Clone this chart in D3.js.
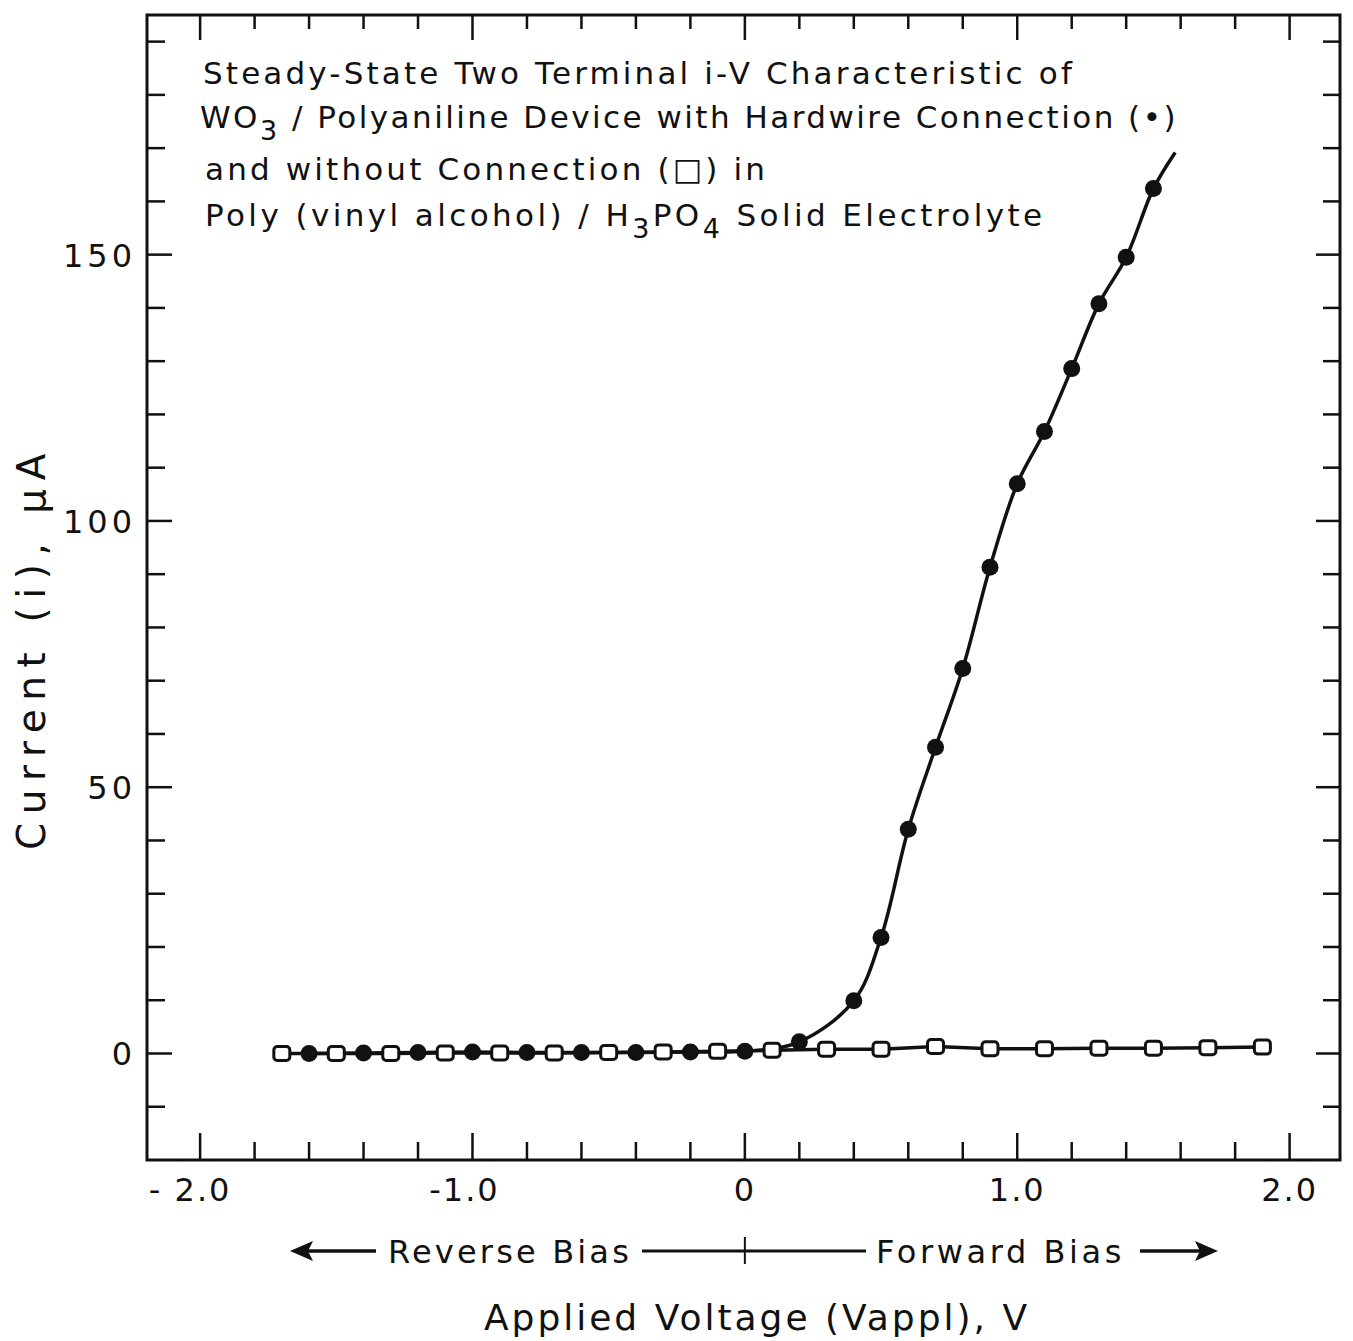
<!DOCTYPE html>
<html><head><meta charset="utf-8">
<script src="https://cdn.jsdelivr.net/npm/d3@7"></script>
<style>
html,body{margin:0;padding:0;background:#fff;}
text{font-family:"DejaVu Sans","Open Sans",sans-serif;fill:#111;}
</style></head>
<body>
<svg id="c" width="1353" height="1341"></svg>
<script>
// ---- data ----
const hardwireV = [-1.6,-1.4,-1.2,-1.0,-0.8,-0.6,-0.4,-0.2,0.0,0.2,0.4,0.5,0.6,0.7,0.8,0.9,1.0,1.1,1.2,1.3,1.4,1.5];
const hardwireI = [0.0,0.1,0.2,0.3,0.2,0.2,0.2,0.3,0.4,2.2,9.9,21.8,42.1,57.5,72.3,91.3,107.0,116.8,128.6,140.8,149.5,162.4];
const fitEndV = [1.58];            // solid fit line continues past last point
const fitEndI = [169.2];
const openV = [-1.7,-1.5,-1.3,-1.1,-0.9,-0.7,-0.5,-0.3,-0.1,0.1,0.3,0.5,0.7,0.9,1.1,1.3,1.5,1.7,1.9];
const openI = [0.0,0.0,0.0,0.1,0.1,0.1,0.2,0.3,0.4,0.6,0.8,0.8,1.3,0.9,0.9,1.0,1.0,1.1,1.2];
const xTickLabels = ["- 2.0","-1.0","0","1.0","2.0"];
const xTickLabelValues = [-2,-1,0,1,2];
const yTickLabels = ["0","50","100","150"];
const yTickLabelValues = [0,50,100,150];
const titleLines = [
  ["Steady-State Two Terminal i-V Characteristic of"],
  ["WO","3"," / Polyaniline Device with Hardwire Connection (\u2022)"],
  ["and without Connection (\u25A1) in"],
  ["Poly (vinyl alcohol) / H","3","PO","4","  Solid Electrolyte"]
];

// ---- layout ----
const L=147, R=1340, T=15, B=1160;
const svg=d3.select("#c");
const x=d3.scaleLinear().domain([-2.195,2.185]).range([L,R]);
const y=d3.scaleLinear().domain([-20,195]).range([B,T]);
const ink="#111";

function fitWidth(sel, target){
  const node=sel.node();
  const n=node.textContent.length;
  const ls=parseFloat(sel.attr("letter-spacing")||0);
  const len=node.getComputedTextLength();
  sel.attr("letter-spacing", ls+(target-len)/n);
}

// frame
svg.append("rect").attr("x",L).attr("y",T).attr("width",R-L).attr("height",B-T)
  .attr("fill","none").attr("stroke",ink).attr("stroke-width",3);

// x ticks (bottom inward, top inward)
const xt=d3.range(-20,21,2).map(d=>d/10);
const isMajX=d=>Math.abs(d-Math.round(d))<1e-6;
svg.append("g").selectAll("line").data(xt).join("line")
  .attr("x1",d=>x(d)).attr("x2",d=>x(d)).attr("y1",B).attr("y2",d=>B-(isMajX(d)?27:18))
  .attr("stroke",ink).attr("stroke-width",2.5);
svg.append("g").selectAll("line").data(xt).join("line")
  .attr("x1",d=>x(d)).attr("x2",d=>x(d)).attr("y1",T).attr("y2",d=>T+(isMajX(d)?25:14))
  .attr("stroke",ink).attr("stroke-width",2.5);
// y ticks (left & right inward)
const yt=d3.range(-10,191,10);
const isMajY=d=>d%50===0;
svg.append("g").selectAll("line").data(yt).join("line")
  .attr("y1",d=>y(d)).attr("y2",d=>y(d)).attr("x1",L).attr("x2",d=>L+(isMajY(d)?25:18))
  .attr("stroke",ink).attr("stroke-width",2.5);
svg.append("g").selectAll("line").data(yt).join("line")
  .attr("y1",d=>y(d)).attr("y2",d=>y(d)).attr("x1",R).attr("x2",d=>R-(isMajY(d)?24:17))
  .attr("stroke",ink).attr("stroke-width",2.5);

// tick labels
svg.append("g").selectAll("text").data(xTickLabelValues).join("text")
  .attr("x",d=>x(d)+(d===-2?-10:d===-1?-8:0)).attr("y",1201).attr("text-anchor","middle")
  .attr("font-size",32).attr("letter-spacing",2).text((d,i)=>xTickLabels[i]);
svg.append("g").selectAll("text").data(yTickLabelValues).join("text")
  .attr("x",136).attr("y",d=>y(d)+12).attr("text-anchor","end")
  .attr("font-size",32).attr("letter-spacing",4).text((d,i)=>yTickLabels[i]);

// lines
const pts=hardwireV.map((v,i)=>[v,hardwireI[i]]).concat(fitEndV.map((v,i)=>[v,fitEndI[i]]));
const opts=openV.map((v,i)=>[v,openI[i]]);
svg.append("path").datum(opts).attr("fill","none").attr("stroke",ink).attr("stroke-width",3.5)
  .attr("d",d3.line().x(d=>x(d[0])).y(d=>y(d[1])));
svg.append("path").datum(pts).attr("fill","none").attr("stroke",ink).attr("stroke-width",3.5)
  .attr("d",d3.line().curve(d3.curveCatmullRom.alpha(0.5)).x(d=>x(d[0])).y(d=>y(d[1])));

// markers
svg.append("g").selectAll("circle").data(hardwireV).join("circle")
  .attr("cx",d=>x(d)).attr("cy",(d,i)=>y(hardwireI[i])).attr("r",8.5).attr("fill",ink);
svg.append("g").selectAll("rect").data(openV).join("rect")
  .attr("x",d=>x(d)-8).attr("y",(d,i)=>y(openI[i])-7).attr("width",16).attr("height",14)
  .attr("rx",3.5).attr("fill","#fff").attr("stroke",ink).attr("stroke-width",3);

// title block
const tl=[{x:203,y:84,w:872},{x:200,y:128,w:978},{x:205,y:180,w:563},{x:205,y:226,w:843}];
tl.forEach((p,k)=>{
  const t=svg.append("text").attr("x",p.x).attr("y",p.y).attr("font-size",31).attr("letter-spacing",1);
  const parts=titleLines[k];
  parts.forEach((s,j)=>{
    const sub=/^\d$/.test(s);
    const ts=t.append("tspan").text(s);
    if(sub){ts.attr("dy",12).attr("font-size",27);}
    else if(j>0 && /^\d$/.test(parts[j-1])){ts.attr("dy",-12);}
  });
  fitWidth(t,p.w);
});

// bias annotation
const by=1251;
fitWidth(svg.append("text").attr("x",388).attr("y",by+12).attr("font-size",32).attr("letter-spacing",2).text("Reverse Bias"),244);
fitWidth(svg.append("text").attr("x",876).attr("y",by+12).attr("font-size",32).attr("letter-spacing",2).text("Forward Bias"),249);
svg.append("line").attr("x1",300).attr("x2",376).attr("y1",by).attr("y2",by).attr("stroke",ink).attr("stroke-width",3.5);
svg.append("path").attr("d",`M290,${by} L313,${by-10} L308,${by} L313,${by+10} Z`).attr("fill",ink);
svg.append("line").attr("x1",1140).attr("x2",1205).attr("y1",by).attr("y2",by).attr("stroke",ink).attr("stroke-width",3.5);
svg.append("path").attr("d",`M1218,${by} L1195,${by-10} L1200,${by} L1195,${by+10} Z`).attr("fill",ink);
svg.append("line").attr("x1",642).attr("x2",866).attr("y1",by).attr("y2",by).attr("stroke",ink).attr("stroke-width",3);
svg.append("line").attr("x1",x(0)).attr("x2",x(0)).attr("y1",by-14).attr("y2",by+13).attr("stroke",ink).attr("stroke-width",2);

// axis titles
fitWidth(svg.append("text").attr("x",484).attr("y",1330).attr("font-size",36)
  .attr("letter-spacing",2).text("Applied Voltage (Vappl), V"),546);
fitWidth(svg.append("text").attr("transform","translate(45,850) rotate(-90)")
  .attr("font-size",39).attr("letter-spacing",2).text("Current (i), \u03BCA"),405);
</script>
</body></html>
